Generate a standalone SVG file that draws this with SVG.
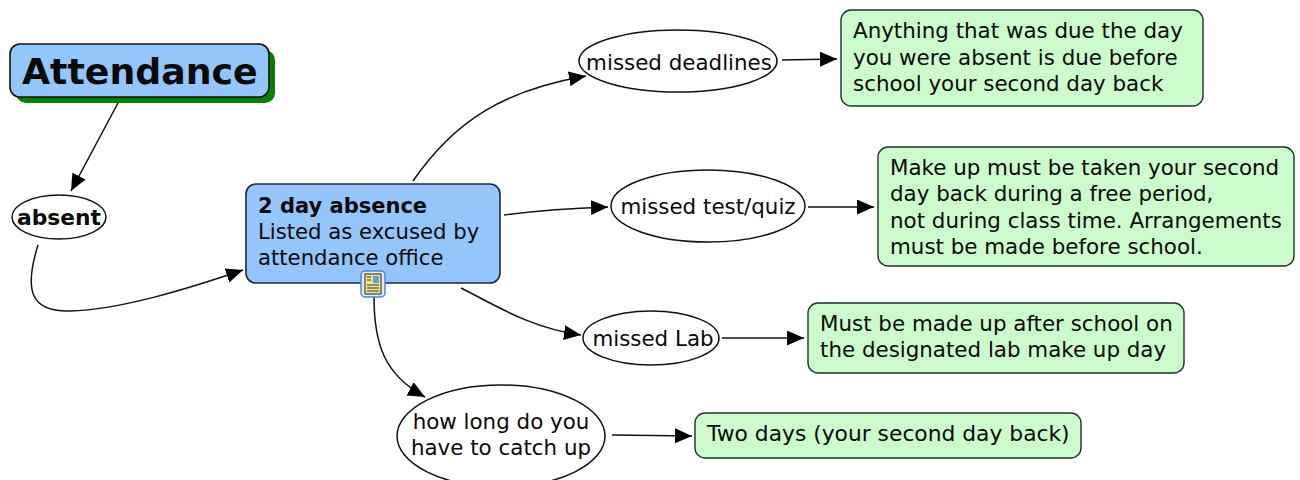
<svg xmlns="http://www.w3.org/2000/svg" width="1300" height="480" viewBox="0 0 1300 480">
<style>
text{font-family:"DejaVu Sans",Verdana,sans-serif;font-size:21.4px;fill:#0a0a0a}
.b{font-weight:bold}
.blue{fill:#94c5fb;stroke:#1c2a40;stroke-width:1.6}
.green{fill:#ccfccb;stroke:#1f3327;stroke-width:1.4}
.oval{fill:#fff;stroke:#111;stroke-width:1.5}
.c{fill:none;stroke:#111;stroke-width:1.5;marker-end:url(#a)}
</style>
<defs><marker id="a" markerUnits="userSpaceOnUse" markerWidth="18" markerHeight="16" refX="17" refY="7.5" orient="auto"><path d="M0 0L17 7.5L0 15z" fill="#000"/></marker></defs>
<rect width="1300" height="480" fill="#fff"/>
<g id="connectors">
<path class="c" d="M118 103L71 191"/>
<path class="c" d="M38 245C24 290 30 312 70 311C120 310 190 288 243 270"/>
<path class="c" d="M413 181C455 120 505 90 586 76"/>
<path class="c" d="M504 215Q550 209 608 207"/>
<path class="c" d="M461 288C495 305 530 328 581 335"/>
<path class="c" d="M374 297C374 345 385 375 425 397"/>
<path class="c" d="M782 60L837 59"/>
<path class="c" d="M808 207L874 207"/>
<path class="c" d="M722 338L804 338"/>
<path class="c" d="M612 435L692 436"/>
</g>
<g id="attendance"><rect x="16" y="50" width="259" height="53" rx="10" fill="#058005"/><rect class="blue" x="10" y="44" width="259" height="53" rx="10" style="stroke:#111"/><text class="b" x="22" y="84" style="font-size:36.3px">Attendance</text></g>
<g id="absent"><ellipse class="oval" cx="59" cy="217" rx="47" ry="22"/><text class="b" x="59" y="225" text-anchor="middle" style="font-size:21.8px">absent</text></g>
<g id="two-day"><rect class="blue" x="246" y="184" width="254" height="99" rx="10"/><text class="b" x="258" y="213" style="font-size:21px">2 day absence</text><text x="258" y="239" style="font-size:21.2px">Listed as excused by</text><text x="258" y="265" style="font-size:21.2px">attendance office</text>
<g id="note-icon"><rect x="361" y="271" width="24" height="26" rx="4" fill="#dceafc" stroke="#4f88d0" stroke-width="1.5"/><rect x="365" y="274" width="16" height="20" fill="#eee88c" stroke="#222"/><rect x="373" y="276" width="6" height="7" fill="#6f9cc8"/><path d="M367 285H379M367 288H379M367 291H379M367 277H371M367 280H371" stroke="#333" fill="none"/></g></g>
<g id="missed-deadlines"><ellipse class="oval" cx="678" cy="61" rx="99" ry="31"/><text x="679" y="70" text-anchor="middle">missed deadlines</text></g>
<g id="missed-test"><ellipse class="oval" cx="708" cy="206" rx="97" ry="36"/><text x="708" y="214" text-anchor="middle">missed test/quiz</text></g>
<g id="missed-lab"><ellipse class="oval" cx="651" cy="338" rx="68" ry="27"/><text x="653" y="346" text-anchor="middle">missed Lab</text></g>
<g id="catch-up"><ellipse class="oval" cx="501" cy="436" rx="104" ry="51"/><text x="501" y="429" text-anchor="middle">how long do you</text><text x="501" y="455" text-anchor="middle">have to catch up</text></g>
<g id="deadlines-note"><rect class="green" x="841" y="10" width="362" height="96" rx="10"/><text x="853" y="38">Anything that was due the day</text><text x="853" y="65">you were absent is due before</text><text x="853" y="91">school your second day back</text></g>
<g id="test-note"><rect class="green" x="878" y="147" width="416" height="119" rx="10"/><text x="890" y="175">Make up must be taken your second</text><text x="890" y="201">day back during a free period,</text><text x="890" y="228">not during class time. Arrangements</text><text x="890" y="254">must be made before school.</text></g>
<g id="lab-note"><rect class="green" x="808" y="303" width="376" height="70" rx="10"/><text x="820" y="331">Must be made up after school on</text><text x="820" y="357">the designated lab make up day</text></g>
<g id="days-note"><rect class="green" x="695" y="413" width="386" height="45" rx="10"/><text x="707" y="441" style="font-size:21.8px">Two days (your second day back)</text></g>
</svg>
